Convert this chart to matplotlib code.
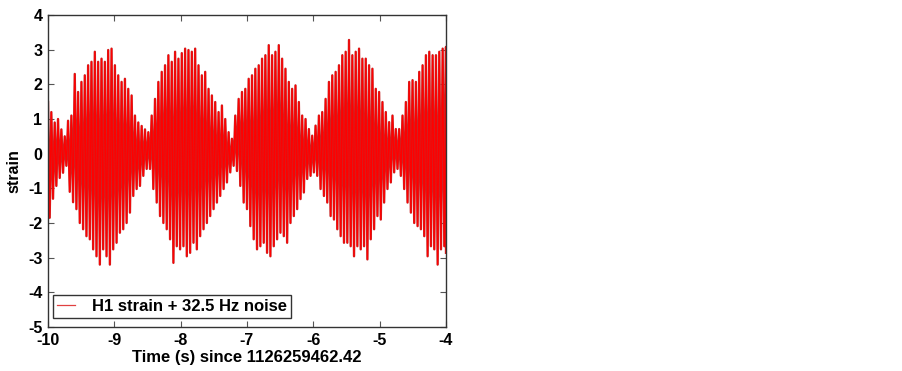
import matplotlib.pyplot as plt
import numpy as np

plt.rcParams["font.family"] = ["Liberation Sans", "DejaVu Sans"]
plt.rcParams["font.weight"] = "bold"
plt.rcParams["axes.unicode_minus"] = False

# envelope of the strain trace, every ~0.05 s
upper = [1.49, 1.2, 0.9, 1.0, 0.7, 0.5, 0.95, 1.1, 2.3, 1.78,
         2.07, 2.26, 2.55, 2.65, 2.94, 2.65, 2.74, 2.65, 2.99, 3.03,
         2.55, 2.26, 2.07, 2.16, 1.87, 1.68, 1.1, 0.9, 0.8, 0.7,
         0.62, 1.1, 1.58, 2.07, 2.36, 2.55, 2.84, 2.65, 2.94, 2.74,
         2.9, 3.03, 2.99, 2.94, 3.03, 2.55, 2.26, 2.36, 1.87, 1.68,
         1.49, 1.2, 1.39, 1.0, 0.62, 0.43, 1.1, 1.58, 1.78, 1.87,
         2.16, 2.26, 2.45, 2.55, 2.74, 2.84, 3.13, 2.84, 2.94, 3.13,
         2.74, 2.45, 2.07, 1.87, 1.97, 1.49, 1.1, 1.0, 0.71, 0.52,
         0.81, 1.1, 1.2, 1.58, 2.07, 2.26, 2.36, 2.55, 2.84, 2.94,
         3.28, 2.84, 2.94, 3.03, 2.74, 2.74, 2.55, 2.45, 1.87, 1.78,
         1.49, 1.2, 0.91, 1.1, 0.71, 0.71, 1.1, 1.49, 2.07, 2.12,
         2.07, 2.36, 2.55, 2.84, 2.94, 2.84, 2.84, 2.94, 3.03, 3.08]
lower = [-1.85, -1.3, -0.93, -0.7, -0.55, -0.35, -1.1, -1.4, -1.6, -2.0,
         -2.18, -2.38, -2.47, -2.76, -2.96, -3.2, -2.76, -2.96, -3.2, -2.76,
         -2.57, -2.28, -2.18, -2.0, -1.7, -1.22, -1.02, -0.93, -0.64, -0.44,
         -0.44, -1.02, -1.41, -1.8, -2.0, -2.18, -2.47, -3.15, -2.67, -2.76,
         -2.67, -2.96, -2.86, -2.57, -2.76, -2.38, -2.18, -2.0, -1.8, -1.6,
         -1.41, -1.22, -1.02, -0.83, -0.54, -0.35, -0.5, -0.93, -1.41, -1.6,
         -2.09, -2.47, -2.76, -2.67, -2.57, -2.86, -2.96, -2.67, -2.47, -2.28,
         -2.38, -2.57, -2.0, -1.8, -1.6, -1.31, -1.12, -0.73, -0.64, -0.54,
         -0.64, -1.02, -1.22, -1.41, -1.8, -1.9, -2.18, -2.38, -2.57, -2.57,
         -2.67, -2.96, -2.67, -2.76, -2.67, -3.05, -2.47, -2.18, -1.8, -1.9,
         -1.41, -1.02, -0.83, -0.54, -0.44, -0.64, -1.02, -1.41, -1.7, -2.0,
         -2.09, -2.18, -2.38, -2.96, -2.67, -2.76, -3.2, -2.76, -2.67, -2.86]
t_start, t_end = -10.0, -4.0
x_ticks = [-10, -9, -8, -7, -6, -5, -4]
y_ticks = [-5, -4, -3, -2, -1, 0, 1, 2, 3, 4]

n = len(upper)
t = np.linspace(t_start, t_end, n)
dt = t[1] - t[0]
# alternate peak / trough so the trace looks like the dense oscillation
tt = np.empty(2 * n)
yy = np.empty(2 * n)
tt[0::2] = t
tt[1::2] = np.minimum(t + dt / 2, t_end)
yy[0::2] = upper
yy[1::2] = lower

fig = plt.figure(figsize=(9.03, 3.71), dpi=100)
ax = fig.add_axes([48 / 903, 1 - 327 / 371, 398 / 903, 312 / 371])

# darker under-stroke gives the spikes their dark edges
ax.plot(tt, yy, color="#c42a2a", lw=1.7)
ax.plot(tt, yy, color="red", lw=0.9, label="H1 strain + 32.5 Hz noise")

ax.set_xlim(t_start, t_end)
ax.set_ylim(-5, 4)
ax.set_xticks(x_ticks)
ax.set_yticks(y_ticks)
ax.tick_params(direction="in", top=True, right=True, length=4, labelsize=11.5,
               color="#555555", pad=4)
for lab in ax.get_xticklabels() + ax.get_yticklabels():
    lab.set_fontweight("bold")
for sp in ax.spines.values():
    sp.set_linewidth(1.0)
    sp.set_color("#333333")

ax.set_xlabel("Time (s) since 1126259462.42", fontsize=12, fontweight="bold", labelpad=2)
ax.set_ylabel("strain", fontsize=11.5, fontweight="bold", labelpad=5)

leg = ax.legend(loc="lower left", bbox_to_anchor=(4.7 / 398, 9 / 312),
                fancybox=False, framealpha=1, edgecolor="#333333",
                prop={"size": 12, "weight": "bold"}, borderaxespad=0,
                handlelength=1.1, handletextpad=1.0, borderpad=0.25)
leg.get_frame().set_linewidth(1.0)
leg.get_lines()[0].set_color("#e04040")

fig.savefig("out.png", dpi=100)
